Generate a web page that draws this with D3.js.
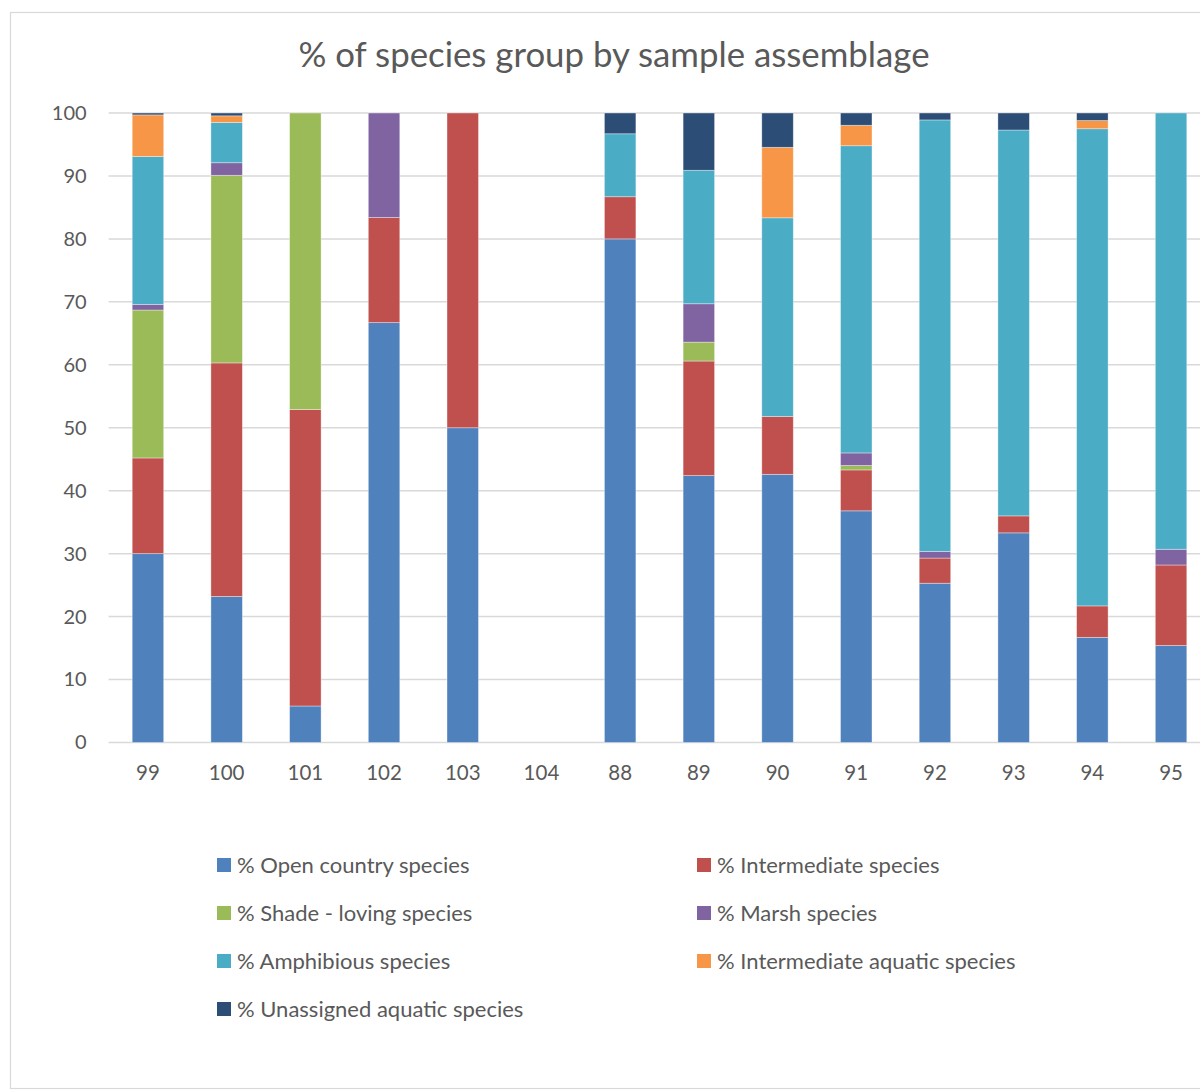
<!DOCTYPE html>
<html>
<head>
<meta charset="utf-8">
<script src="https://cdn.jsdelivr.net/npm/d3@7"></script>
<style>
  html, body { margin: 0; padding: 0; background: #fff; }
  svg { display: block; }
  text { font-family: "Lato", "Open Sans", sans-serif; fill: #595959; }
</style>
</head>
<body>
<svg id="chart" width="1200" height="1090"></svg>
<script>
// Sample assemblages, in plotting order
const categories = ["99", "100", "101", "102", "103", "104", "88", "89", "90", "91", "92", "93", "94", "95"];

// Percentage of each species group per sample
const openCountry       = [30.0, 23.2,  5.8, 66.7, 50, 0, 80.0, 42.4, 42.6, 36.8, 25.3, 33.3, 16.7, 15.4];
const intermediate      = [15.2, 37.1, 47.1, 16.7, 50, 0,  6.7, 18.2,  9.2,  6.5,  4.0,  2.7,  5.0, 12.8];
const shadeLoving       = [23.5, 29.8, 47.1,  0,    0, 0,  0,    3.0,  0,    0.7,  0,    0,    0,    0];
const marsh             = [ 0.9,  2.0,  0,   16.6,  0, 0,  0,    6.1,  0,    2.0,  1.05, 0,    0,    2.5];
const amphibious        = [23.5,  6.4,  0,    0,    0, 0, 10.0, 21.2, 31.55, 48.8, 68.55, 61.3, 75.8, 69.3];
const intermediateAquatic = [6.6, 1.05, 0,    0,    0, 0,  0,    0,   11.2,  3.25, 0,    0,    1.3,  0];
const unassignedAquatic = [ 0.3,  0.45, 0,    0,    0, 0,  3.3,  9.1,  5.45, 1.95, 1.1,  2.7,  1.2,  0];

const seriesNames = [
  "% Open country species",
  "% Intermediate species",
  "% Shade - loving species",
  "% Marsh species",
  "% Amphibious species",
  "% Intermediate aquatic species",
  "% Unassigned aquatic species"
];
const seriesValues = [openCountry, intermediate, shadeLoving, marsh, amphibious, intermediateAquatic, unassignedAquatic];
const seriesColors = ["#4f81bd", "#c0504d", "#9bbb59", "#8064a2", "#4bacc6", "#f79646", "#2c4d75"];

const yTicks = [0, 10, 20, 30, 40, 50, 60, 70, 80, 90, 100];

const svg = d3.select("#chart");

// outer chart border
svg.append("rect")
  .attr("x", 10.5).attr("y", 12.5)
  .attr("width", 1220).attr("height", 1076)
  .attr("fill", "#fff")
  .attr("stroke", "#d9d9d9").attr("stroke-width", 1.2);

// title
svg.append("text")
  .attr("x", 614).attr("y", 67)
  .attr("text-anchor", "middle")
  .style("font-size", "34.8px")
  .text("% of species group by sample assemblage");

// scales
const x = d3.scaleBand()
  .domain(categories)
  .range([108.6, 108.6 + 78.7 * categories.length])
  .paddingInner(0.6).paddingOuter(0.3);

const y = d3.scaleLinear().domain([0, 100]).range([742.5, 113]);

// stacked rows built from the series arrays
const rows = categories.map((c, i) => {
  const r = { cat: c };
  seriesNames.forEach((n, k) => { r[n] = seriesValues[k][i]; });
  return r;
});
const stack = d3.stack().keys(seriesNames)(rows);

// gridlines
svg.append("g")
  .selectAll("line")
  .data(yTicks)
  .join("line")
  .attr("x1", 108.6).attr("x2", 1230)
  .attr("y1", d => y(d)).attr("y2", d => y(d))
  .attr("stroke", "#d9d9d9").attr("stroke-width", 1.5);

// y axis labels
const yAxis = svg.append("g")
  .attr("transform", "translate(108.6,0)")
  .call(d3.axisLeft(y).tickValues(yTicks).tickSize(0).tickPadding(22));
yAxis.select(".domain").remove();
yAxis.selectAll("text")
  .style("font-size", "20px")
  .style("font-family", "Lato, 'Open Sans', sans-serif")
  .attr("fill", "#595959");

// bars
svg.append("g")
  .selectAll("g")
  .data(stack)
  .join("g")
  .attr("fill", (d, i) => seriesColors[i])
  .selectAll("rect")
  .data(d => d.filter(s => s[1] - s[0] > 0))
  .join("rect")
  .attr("x", d => x(d.data.cat))
  .attr("width", x.bandwidth())
  .attr("y", d => y(d[1]))
  .attr("height", d => y(d[0]) - y(d[1]))
  .attr("stroke", "#ffffff")
  .attr("stroke-opacity", 0.45)
  .attr("stroke-width", 0.8);

// x axis labels
const xAxis = svg.append("g")
  .attr("transform", "translate(0,742.5)")
  .call(d3.axisBottom(x).tickSize(0).tickPadding(23));
xAxis.select(".domain").remove();
xAxis.selectAll("text")
  .style("font-size", "20.5px")
  .style("font-family", "Lato, 'Open Sans', sans-serif")
  .attr("fill", "#595959");

// legend: two columns, filled row by row
const legendCols = [217, 697];
const legendRowY = [865, 913, 961, 1009];
const legend = svg.append("g")
  .selectAll("g")
  .data(seriesNames)
  .join("g")
  .attr("transform", (d, i) => `translate(${legendCols[i % 2]},${legendRowY[Math.floor(i / 2)]})`);
legend.append("rect")
  .attr("x", 0).attr("y", -7)
  .attr("width", 14).attr("height", 14)
  .attr("fill", (d, i) => seriesColors[i]);
legend.append("text")
  .attr("x", 20).attr("y", 0)
  .attr("dy", "0.35em")
  .style("font-size", "22px")
  .text(d => d);
</script>
</body>
</html>
